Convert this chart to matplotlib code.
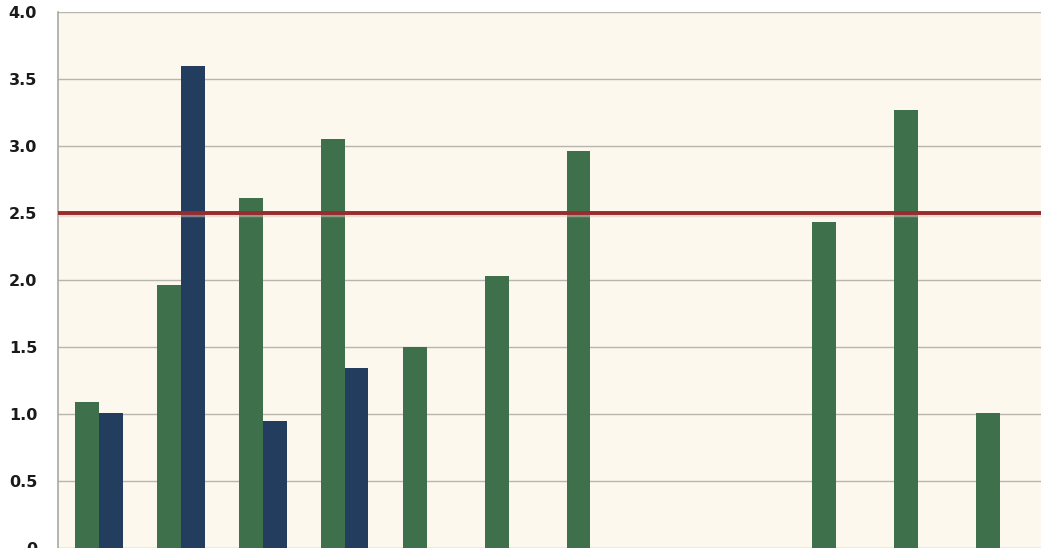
import matplotlib
matplotlib.use('Agg')
import matplotlib.pyplot as plt
import numpy as np

# values
groups = list(range(1, 13))
green_vals = [1.09, 1.96, 2.61, 3.05, 1.50, 2.03, 2.96, 0, 0, 2.43, 3.27, 1.01]
navy_vals = [1.01, 3.60, 0.95, 1.34, 0, 0, 0, 0, 0, 0, 0, 0]
target = 2.5
yticks = [0, 0.5, 1.0, 1.5, 2.0, 2.5, 3.0, 3.5, 4.0]

fig = plt.figure(figsize=(10.41, 5.48), dpi=100)
fig.patch.set_facecolor('white')
ax = fig.add_axes([58 / 1041, 0.0, 1 - 58 / 1041, 536 / 548])
ax.set_facecolor('#fdf8ee')

x = np.arange(len(groups))
w = 0.29
ax.bar(x - w / 2, green_vals, width=w, color='#3e714b', zorder=3)
ax.bar(x + w / 2, navy_vals, width=w, color='#233d5f', zorder=3)

# target line with a faint shadow
ax.axhline(target - 0.015, color='#d8c4bb', linewidth=2.5, zorder=4, alpha=0.5)
ax.axhline(target, color='#962c2e', linewidth=2.8, zorder=5)

ax.set_xlim(-0.5, len(groups) - 0.5)
ax.set_ylim(0, 4.0)
ax.set_yticks(yticks)
ax.set_yticklabels(['0' if v == 0 else '%.1f' % v for v in yticks],
                   fontsize=11.5, fontweight='bold', color='#1a1a1a')
ax.set_xticks([])
ax.tick_params(axis='y', length=0, pad=15)
ax.yaxis.grid(True, color='#b8b5ae', linewidth=1, zorder=1)
for s in ['top', 'right', 'bottom']:
    ax.spines[s].set_visible(False)
ax.spines['left'].set_color('#a8a8a8')
ax.spines['left'].set_linewidth(1.2)

plt.savefig('out.png', dpi=100)
plt.close()
